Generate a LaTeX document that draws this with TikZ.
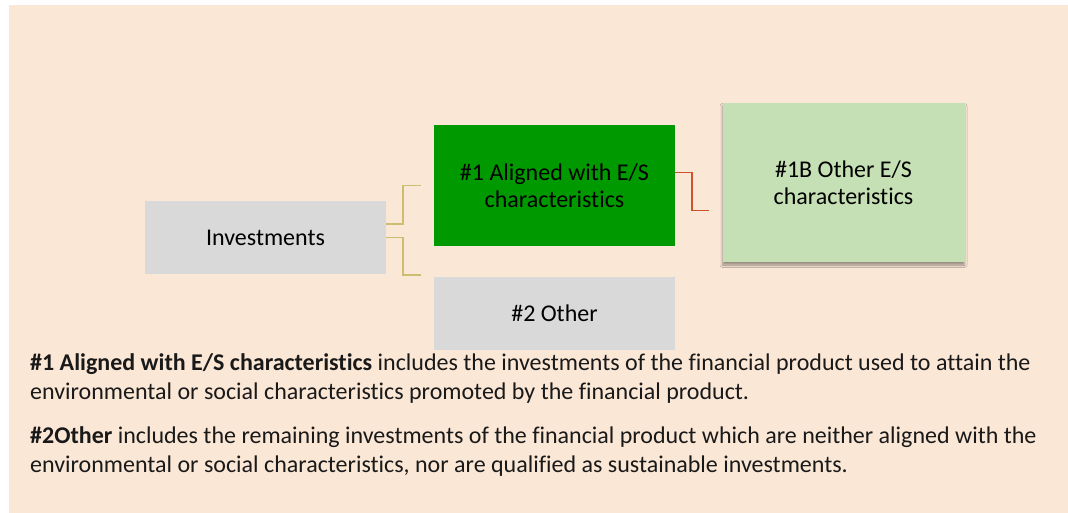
\documentclass[tikz,border=0pt]{standalone}
\usepackage{fontspec}
\setmainfont{Carlito}[Ligatures=NoCommon]
\usetikzlibrary{positioning, shadows.blur}
\definecolor{peach}{RGB}{251,231,214}
\definecolor{boxgray}{RGB}{217,217,217}
\definecolor{esgreen}{RGB}{0,153,0}
\definecolor{lightgreen}{RGB}{197,224,180}
\definecolor{tanline}{RGB}{204,189,112}
\definecolor{redline}{RGB}{207,82,46}
\tikzset{
  catbox/.style={minimum width=241pt, align=center, inner sep=0pt,
    font=\fontsize{24}{27}\selectfont},
  tanlink/.style={draw=tanline, line width=1.6pt},
  redlink/.style={draw=redline, line width=1.6pt},
  note/.style={anchor=base west, align=left, inner sep=0pt, text=black!90,
    font=\fontsize{24}{29}\selectfont}
}

\begin{document}
\begin{tikzpicture}[x=1pt, y=-1pt, node distance=289pt]
\useasboundingbox (0,0) rectangle (1068,513);
\fill[peach] (9,5) rectangle (1068,513);

\node (inv) [catbox, fill=boxgray, minimum height=73pt] at (265.5,237.5) {Investments};
\node (es) [catbox, fill=esgreen, minimum height=121pt, right of=inv, yshift=52pt] {\#1 Aligned with E/S\\characteristics};
\node (oth) [catbox, fill=boxgray, minimum height=73pt, right of=inv, yshift=-76pt] {\#2 Other};
\node (esb) [catbox, fill=lightgreen, minimum height=159pt, minimum width=242pt, right of=es, yshift=3pt,
  blur shadow={shadow xshift=0pt, shadow yshift=-3pt, shadow blur radius=2.5pt, shadow opacity=40}] {\#1B Other E/S\\characteristics};

\draw[tanlink] ([yshift=13.5pt]inv.east) -- ++(17,0) |- ([xshift=-13pt]es.west);
\draw[tanlink] (inv.east) -- ++(17,0) |- ([xshift=-13pt, yshift=2pt]oth.north west);
\draw[redlink] ([yshift=13pt]es.east) -- ++(17,0) |- ([xshift=-13pt, yshift=-28pt]esb.west);

\node (txa) [note] at (30,399.5) {\textbf{\#1 Aligned with E/S characteristics} includes the investments of the financial product used to attain the\\environmental or social characteristics promoted by the financial product.};
\node (txb) [note] at (30,472) {\textbf{\#2Other} includes the remaining investments of the financial product which are neither aligned with the\\environmental or social characteristics, nor are qualified as sustainable investments.};
\end{tikzpicture}
\end{document}
